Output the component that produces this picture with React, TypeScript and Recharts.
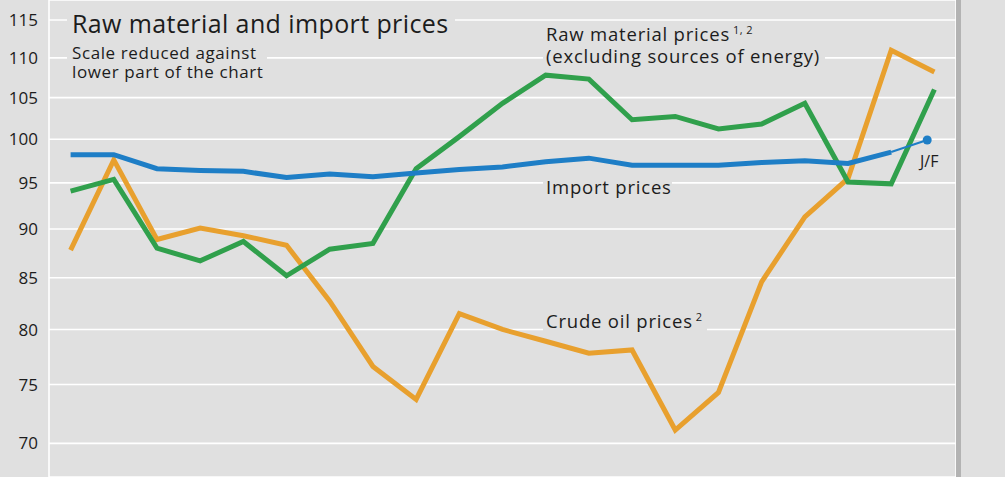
import React from 'react';
import { LineChart, Line, XAxis, YAxis, CartesianGrid } from 'recharts';

// Quarterly periods (5 years x 4 quarters + Q1 of the following year)
const periods = [
  'Y1 Q1', 'Y1 Q2', 'Y1 Q3', 'Y1 Q4',
  'Y2 Q1', 'Y2 Q2', 'Y2 Q3', 'Y2 Q4',
  'Y3 Q1', 'Y3 Q2', 'Y3 Q3', 'Y3 Q4',
  'Y4 Q1', 'Y4 Q2', 'Y4 Q3', 'Y4 Q4',
  'Y5 Q1', 'Y5 Q2', 'Y5 Q3', 'Y5 Q4',
  'Y6 Q1',
];

const rawMaterialPrices = [
  94.1, 95.4, 88.0, 86.7, 88.7, 85.2, 87.9, 88.5, 96.6, 100.3,
  104.3, 107.8, 107.3, 102.3, 102.7, 101.2, 101.8, 104.3, 95.1, 94.9, 106.0,
];

const crudeOilPrices = [
  87.8, 97.6, 88.9, 90.1, 89.3, 88.3, 82.7, 76.6, 73.7, 81.5,
  80.0, 78.9, 77.8, 78.1, 71.1, 74.3, 84.6, 91.3, 95.5, 111.0, 108.2,
];

const importPrices = [
  98.2, 98.2, 96.6, 96.4, 96.3, 95.6, 96.0, 95.7, 96.1, 96.5,
  96.8, 97.4, 97.8, 97.0, 97.0, 97.0, 97.3, 97.5, 97.2, 98.5,
];

const importLatestLabel = 'J/F';
const importLatest = 99.9;
// Jan/Feb midpoint expressed in quarters after the start of year 6
const importLatestTime = 20 + 1 / 3;

const yTicks = [70, 75, 80, 85, 90, 95, 100, 105, 110, 115];
const yearBoundaries = [0, 4, 8, 12, 16, 20];
const yDomain = [67.29, 117.73];
const xDomain = [0, 21];

const BG = '#e0e0e0';
const ORANGE = '#e8a02e';
const GREEN = '#30a04c';
const BLUE = '#1e7ec6';
const TEXT = '#1c1c1c';
const FONT = '"Open Sans", "Noto Sans", sans-serif';

const mainData = periods.map((p, i) => ({
  period: p,
  t: i + 0.5,
  raw: rawMaterialPrices[i],
  oil: crudeOilPrices[i],
  imp: i < importPrices.length ? importPrices[i] : null,
}));

const jfData = [
  { period: periods[importPrices.length - 1], t: importPrices.length - 0.5, v: importPrices[importPrices.length - 1] },
  { period: importLatestLabel, t: importLatestTime, v: importLatest },
];

const JFDot = (props: any) => {
  const { cx, cy, index } = props;
  if (index !== 1) return <g key={`d${index}`} />;
  return <circle key={`d${index}`} cx={cx} cy={cy} r={4.5} fill={BLUE} stroke="none" />;
};

export default function App() {
  return (
    <div style={{ position: 'absolute', left: 0, top: 0, width: 1005, height: 477, background: BG, overflow: 'hidden' }}>
      <LineChart
        width={1005}
        height={477}
        data={mainData}
        margin={{ top: 0, right: 49, bottom: 0, left: 0 }}
      >
        <CartesianGrid stroke="#ffffff" strokeWidth={1.6} />
        <XAxis
          dataKey="t"
          type="number"
          domain={xDomain}
          ticks={yearBoundaries}
          tick={false}
          tickLine={false}
          axisLine={false}
          height={0}
          allowDataOverflow
        />
        <YAxis
          scale="log"
          domain={yDomain}
          ticks={yTicks}
          allowDataOverflow
          width={49}
          axisLine={false}
          tickLine={false}
          tickSize={0}
          tickMargin={11}
          tick={{ fill: TEXT, fontSize: 17, fontFamily: FONT }}
          interval={0}
        />
        <Line
          dataKey="oil"
          stroke={ORANGE}
          strokeWidth={5}
          dot={false}
          strokeLinejoin="miter"
          strokeLinecap="butt"
          isAnimationActive={false}
        />
        <Line
          dataKey="raw"
          stroke={GREEN}
          strokeWidth={5}
          dot={false}
          strokeLinejoin="miter"
          strokeLinecap="butt"
          isAnimationActive={false}
        />
        <Line
          data={jfData}
          dataKey="v"
          stroke={BLUE}
          strokeWidth={2}
          dot={JFDot}
          activeDot={false}
          isAnimationActive={false}
        />
        <Line
          dataKey="imp"
          stroke={BLUE}
          strokeWidth={5}
          dot={false}
          strokeLinejoin="miter"
          strokeLinecap="butt"
          connectNulls={false}
          isAnimationActive={false}
        />
      </LineChart>
      <svg
        width={1005}
        height={477}
        style={{ position: 'absolute', left: 0, top: 0, pointerEvents: 'none' }}
        fontFamily={FONT}
      >
        <rect x={956} y={0} width={5} height={477} fill="#b3b3b3" />
        <rect x={67} y={5} width={388} height={33} fill={BG} />
        <rect x={67} y={42} width={200} height={45} fill={BG} />
        <rect x={543} y={24} width={282} height={44} fill={BG} />
        <rect x={543} y={176} width={129} height={23} fill={BG} />
        <rect x={543} y={308} width={164} height={26} fill={BG} />
        <text x={72} y={33} fontSize={25} letterSpacing={0.4} fill={TEXT}>Raw material and import prices</text>
        <text x={72} y={59} fontSize={17} letterSpacing={0.6} fill={TEXT}>Scale reduced against</text>
        <text x={72} y={78} fontSize={17} letterSpacing={0.6} fill={TEXT}>lower part of the chart</text>
        <text x={546} y={41} fontSize={18.5} letterSpacing={0.8} fill={TEXT}>
          Raw material prices
          <tspan fontSize={11} letterSpacing={0.4} dy={-7} dx={3}>1, 2</tspan>
        </text>
        <text x={546} y={63} fontSize={18.5} letterSpacing={0.8} fill={TEXT}>(excluding sources of energy)</text>
        <text x={546} y={194} fontSize={18.5} letterSpacing={0.8} fill={TEXT}>Import prices</text>
        <text x={546} y={328} fontSize={18.5} letterSpacing={0.8} fill={TEXT}>
          Crude oil prices
          <tspan fontSize={11} dy={-7} dx={3}>2</tspan>
        </text>
        <text x={920} y={167} fontSize={16} fill={TEXT}>{importLatestLabel}</text>
      </svg>
    </div>
  );
}
